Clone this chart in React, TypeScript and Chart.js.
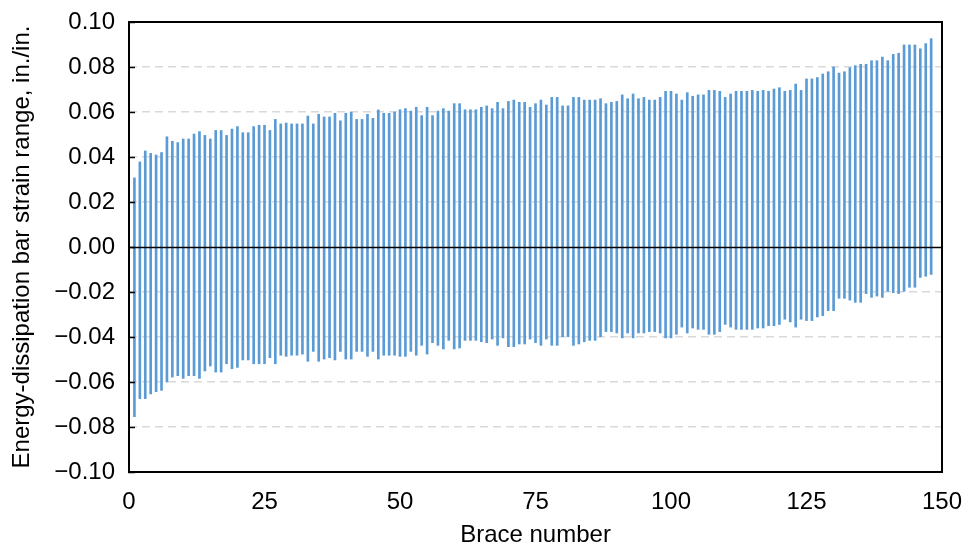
import React, { useEffect, useRef } from "react";
import { Chart, registerables } from "chart.js";

Chart.register(...registerables);

// Max strain per brace (brace 1..148)
const strainMax: number[] = [
  0.0307, 0.0378, 0.0427, 0.0416, 0.0409, 0.042, 0.049, 0.047, 0.0464, 0.048,
  0.048, 0.0502, 0.0513, 0.0496, 0.048, 0.0518, 0.0518, 0.0496, 0.0524, 0.0535,
  0.0508, 0.0508, 0.0535, 0.0541, 0.0541, 0.0518, 0.0567, 0.0547, 0.0551, 0.0547,
  0.0547, 0.0547, 0.0582, 0.0547, 0.059, 0.0578, 0.0578, 0.0594, 0.0561, 0.0594,
  0.0599, 0.0567, 0.0567, 0.059, 0.0572, 0.0609, 0.0594, 0.0594, 0.06, 0.061,
  0.0615, 0.0604, 0.0621, 0.0584, 0.0621, 0.0584, 0.0604, 0.0615, 0.0604, 0.0637,
  0.0637, 0.061, 0.061, 0.061, 0.0621, 0.0627, 0.0615, 0.0643, 0.0615, 0.0647,
  0.0653, 0.0643, 0.0643, 0.0621, 0.0637, 0.0653, 0.0631, 0.0665, 0.0665, 0.0627,
  0.0627, 0.0665, 0.0665, 0.0653, 0.0653, 0.0653, 0.0659, 0.0637, 0.0643, 0.0647,
  0.0676, 0.0659, 0.068, 0.0659, 0.0665, 0.0653, 0.0653, 0.0665, 0.0692, 0.0692,
  0.068, 0.0653, 0.0686, 0.067, 0.0676, 0.0676, 0.0696, 0.0696, 0.0692, 0.0665,
  0.068, 0.0692, 0.0692, 0.0692, 0.0696, 0.0692, 0.0696, 0.0692, 0.0702, 0.0708,
  0.0692, 0.0696, 0.0724, 0.0696, 0.0747, 0.0747, 0.0753, 0.0769, 0.0779, 0.08,
  0.0773, 0.0779, 0.0797, 0.0806, 0.0812, 0.0812, 0.0828, 0.0828, 0.0844, 0.0828,
  0.0856, 0.0861, 0.0898, 0.0898, 0.0898, 0.0881, 0.0904, 0.0926,
];

// Min strain per brace (brace 1..148)
const strainMin: number[] = [
  -0.0754, -0.0674, -0.0674, -0.0653, -0.0643, -0.0637, -0.06, -0.0578, -0.0572, -0.0584,
  -0.0572, -0.0572, -0.0584, -0.0551, -0.0529, -0.0556, -0.0556, -0.0519, -0.0541, -0.0535,
  -0.0502, -0.0502, -0.0519, -0.0519, -0.0519, -0.0492, -0.0519, -0.0481, -0.0486, -0.0481,
  -0.0481, -0.0476, -0.0508, -0.0464, -0.0508, -0.0498, -0.0492, -0.0502, -0.0464, -0.0498,
  -0.0498, -0.0464, -0.0464, -0.0486, -0.0464, -0.0498, -0.0481, -0.0481, -0.0481, -0.0486,
  -0.0486, -0.0464, -0.0481, -0.0437, -0.0476, -0.0425, -0.0437, -0.0453, -0.0415, -0.0453,
  -0.0449, -0.0415, -0.0415, -0.0415, -0.0421, -0.0425, -0.0409, -0.0437, -0.0404, -0.0443,
  -0.0443, -0.0431, -0.0431, -0.0409, -0.0425, -0.0437, -0.0409, -0.0437, -0.0437, -0.0399,
  -0.0399, -0.0437, -0.0431, -0.0421, -0.0415, -0.0415, -0.0399, -0.0376, -0.0376, -0.0382,
  -0.0404, -0.0382, -0.0404, -0.0382, -0.0382, -0.0376, -0.0376, -0.0382, -0.0404, -0.0404,
  -0.0388, -0.0356, -0.0382, -0.036, -0.0366, -0.0366, -0.0388, -0.0388, -0.0376, -0.0344,
  -0.0356, -0.0366, -0.0366, -0.0366, -0.0366, -0.036, -0.036, -0.035, -0.035, -0.0344,
  -0.0321, -0.0333, -0.0356, -0.0321, -0.0327, -0.0327, -0.0311, -0.0305, -0.0283, -0.0283,
  -0.0228, -0.0228, -0.0236, -0.0246, -0.0246, -0.0207, -0.0224, -0.0218, -0.0224, -0.0197,
  -0.0203, -0.0207, -0.0197, -0.0179, -0.0179, -0.0135, -0.013, -0.0122,
];

const xAxisTitle = "Brace number";
const yAxisTitle = "Energy-dissipation bar strain range, in./in.";
const xTickStep = 25;
const yTickStep = 0.02;

const FONT = "'Liberation Sans', Arial, sans-serif";

const framePlugin = {
  id: "framePlugin",
  afterDatasetsDraw(chart: any) {
    const { ctx, chartArea, scales } = chart;
    const y = scales.y;
    ctx.save();
    const y0 = Math.round(y.getPixelForValue(0)) + 0.5;
    ctx.strokeStyle = "#000";
    ctx.lineWidth = 1.5;
    ctx.beginPath();
    ctx.moveTo(chartArea.left, y0);
    ctx.lineTo(chartArea.right, y0);
    ctx.stroke();
    y.ticks.forEach((t: any) => {
      const py = Math.round(y.getPixelForValue(t.value)) + 0.5;
      ctx.beginPath();
      ctx.moveTo(chartArea.left - 1, py);
      ctx.lineTo(chartArea.left + 6, py);
      ctx.stroke();
    });
    ctx.lineWidth = 2;
    ctx.strokeRect(chartArea.left, chartArea.top, chartArea.right - chartArea.left, chartArea.bottom - chartArea.top);
    ctx.restore();
  },
};

export default function App() {
  const ref = useRef<HTMLCanvasElement | null>(null);

  useEffect(() => {
    if (!ref.current) return;
    const data = strainMax.map((hi, i) => ({ x: i + 1, y: [strainMin[i], hi] }));
    const chart = new Chart(ref.current, {
      type: "bar",
      data: {
        datasets: [
          {
            data: data as any,
            backgroundColor: "#5B9BD5",
            borderWidth: 0,
            barThickness: 2,
          },
        ],
      },
      options: {
        animation: false,
        responsive: false,
        maintainAspectRatio: false,
        layout: { autoPadding: false, padding: { left: 0, top: 22, right: 21, bottom: 0 } } as any,
        plugins: {
          legend: { display: false },
          tooltip: { enabled: false },
        },
        scales: {
          x: {
            type: "linear",
            min: 0,
            max: 150,
            offset: false,
            grid: { display: false, drawTicks: false },
            border: { display: false },
            ticks: {
              stepSize: xTickStep,
              padding: 16,
              color: "#000",
              font: { family: FONT, size: 24 },
              maxRotation: 0,
            },
            title: {
              display: true,
              text: xAxisTitle,
              color: "#000",
              font: { family: FONT, size: 24 },
              padding: { top: 0, bottom: 0 },
            },
            afterFit: (s: any) => {
              s.height = 78;
              s.paddingLeft = 0;
              s.paddingRight = 0;
              s.paddingTop = 0;
              s.paddingBottom = 0;
            },
          } as any,
          y: {
            min: -0.1,
            max: 0.1,
            grid: {
              drawTicks: false,
              lineWidth: 1.5,
              color: (c: any) => {
                const v = c.tick ? c.tick.value : 0;
                if (Math.abs(v) < 1e-9 || Math.abs(Math.abs(v) - 0.1) < 1e-9) return "rgba(0,0,0,0)";
                return "#D9D9D9";
              },
            },
            border: { display: false, dash: [8, 5] },
            ticks: {
              stepSize: yTickStep,
              padding: 14,
              color: "#000",
              font: { family: FONT, size: 24 },
              callback: (v: any) => {
                const n = Number(v);
                if (Math.abs(n) < 1e-9) return "0.00";
                return n < 0 ? "\u2212" + Math.abs(n).toFixed(2) : n.toFixed(2);
              },
            },
            title: {
              display: true,
              text: yAxisTitle,
              color: "#000",
              font: { family: FONT, size: 24 },
              padding: { top: 8, bottom: 0 },
            },
            afterFit: (s: any) => {
              s.width = 129;
              s.paddingLeft = 0;
              s.paddingRight = 0;
              s.paddingTop = 0;
              s.paddingBottom = 0;
            },
          } as any,
        },
      },
      plugins: [framePlugin],
    });
    return () => chart.destroy();
  }, []);

  return (
    <div style={{ position: "absolute", left: 0, top: 0, width: 963, height: 550, background: "#fff" }}>
      <canvas ref={ref} width={963} height={550} />
    </div>
  );
}
